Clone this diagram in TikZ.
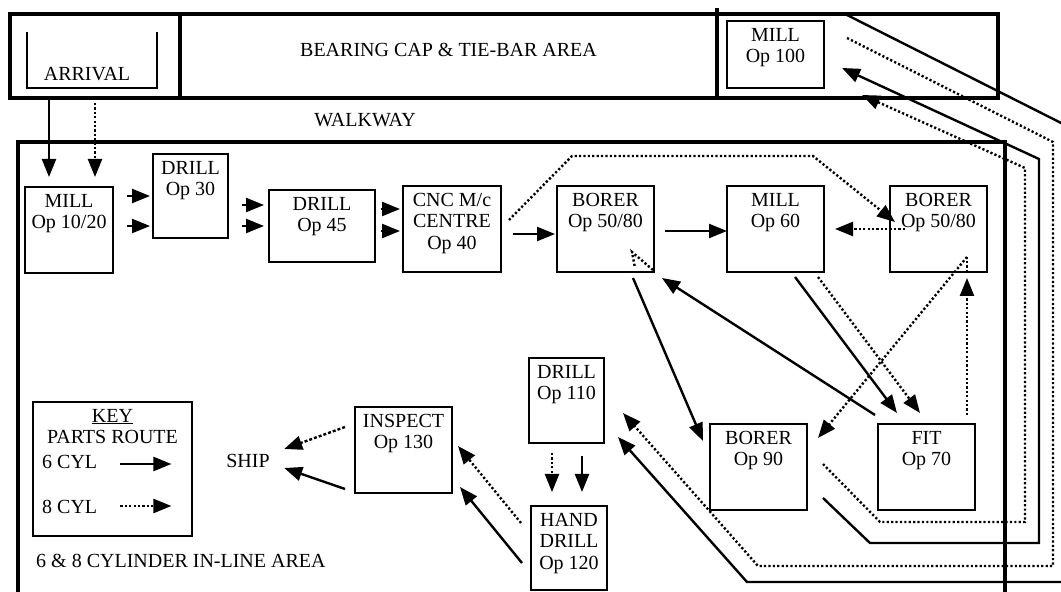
\documentclass[tikz,border=0pt]{standalone}
\usepackage{fontspec}
\setmainfont{Liberation Serif}
\usetikzlibrary{arrows.meta, calc}
\tikzset{
    box/.style={draw, line width=1.7pt, rectangle, anchor=north west, outer sep=0pt, inner sep=0pt},
    boxtext/.style={anchor=north, align=center, inner sep=0pt, yshift=-7pt},
    room/.style={draw, line width=4.5pt, rectangle, anchor=north west, outer sep=0pt, inner sep=0pt},
    eightline/.style={line width=2.4pt, dash pattern=on 2.2pt off 2.2pt},
    six/.style={line width=2.4pt, -{Triangle[length=18pt, width=14pt]}},
    eight/.style={eightline, -{Triangle[length=18pt, width=14pt]}}
}

\begin{document}
\begin{tikzpicture}[x=1pt, y=1pt, font=\fontsize{20}{21.5}\selectfont]
\useasboundingbox (0,0) rectangle (1061,592);
\clip (0,0) rectangle (1061,592);

% top area
\node[room, minimum width=170pt, minimum height=84pt] (arrival) at (10,578) {};
\node[room, minimum width=537pt, minimum height=84pt,
      label={[boxtext, yshift=-22pt]north:BEARING CAP \& TIE-BAR AREA}] (bearing) at (180,578) {};
\node[room, minimum width=281pt, minimum height=84pt] (millroom) at (717,578) {};
\draw[line width=4.5pt] (millroom.north west) -- ++(0,6);
\draw[line width=1.7pt] (27,560) -- (27,504) -- (157,504) -- (157,560);
\node (arrivaltext) at (87,518) {ARRIVAL};
\node[box, minimum width=97pt, minimum height=67pt, label={[boxtext]north:MILL\\Op 100}] (mill100) at (727,571) {};
\node (walkway) at (365,472) {WALKWAY};

% in-line area
\draw[line width=4.5pt] (18,-10) -- (18,450) -- (1005,450) -- (1005,-10);
\node[anchor=west, inner sep=0pt] (inlinearea) at (36,31) {6 \& 8 CYLINDER IN-LINE AREA};

\node[box, minimum width=88pt, minimum height=86pt, label={[boxtext]north:MILL\\Op 10/20}] (mill1020) at (25,405) {};
\node[box, minimum width=75pt, minimum height=84pt, label={[boxtext]north:DRILL\\Op 30}] (drill30) at (153,438) {};
\node[box, minimum width=106pt, minimum height=72pt, label={[boxtext]north:DRILL\\Op 45}] (drill45) at (269,402) {};
\node[box, minimum width=98pt, minimum height=86pt, label={[boxtext]north:CNC M/c\\CENTRE\\Op 40}] (cnc40) at (403,406) {};
\node[box, minimum width=97pt, minimum height=86pt, label={[boxtext]north:BORER\\Op 50/80}] (borer50a) at (557,406) {};
\node[box, minimum width=97pt, minimum height=86pt, label={[boxtext]north:MILL\\Op 60}] (mill60) at (727,406) {};
\node[box, minimum width=97pt, minimum height=86pt, label={[boxtext]north:BORER\\Op 50/80}] (borer50b) at (890,406) {};
\node[box, minimum width=75pt, minimum height=85pt, label={[boxtext]north:DRILL\\Op 110}] (drill110) at (529,234) {};
\node[box, minimum width=97pt, minimum height=86pt, label={[boxtext]north:BORER\\Op 90}] (borer90) at (710,168) {};
\node[box, minimum width=97pt, minimum height=86pt, label={[boxtext]north:FIT\\Op 70}] (fit70) at (878,168) {};
\node[box, minimum width=76pt, minimum height=84pt, label={[boxtext]north:HAND\\DRILL\\Op 120}] (hdrill120) at (531,86) {};
\node[box, minimum width=97pt, minimum height=86pt, label={[boxtext]north:INSPECT\\Op 130}] (inspect130) at (355,185) {};
\node (ship) at (248,131) {SHIP};

% key
\node[box, minimum width=159pt, minimum height=134pt, label={[boxtext]north:\underline{KEY}\\PARTS ROUTE}] (key) at (33,190) {};
\node[anchor=west, inner sep=0pt] (cyl6) at (42,130) {6 CYL};
\node[anchor=west, inner sep=0pt] (cyl8) at (42,85) {8 CYL};
\draw[six] ($(cyl6.east)+(23,-2)$) -- ++(51,0);
\draw[eight] ($(cyl8.east)+(23,1)$) -- ++(51,0);

% top row
\draw[six] ($(arrival.south west)+(39,0)$) -- ($(mill1020.north west)+(24,10)$);
\draw[eight] ($(arrival.south west)+(85,-5)$) -- ($(mill1020.north west)+(70,10)$);
\draw[six] ($(mill1020.east)+(14,34)$) -- ($(drill30.west)+(-3,0)$);
\draw[six] ($(mill1020.east)+(14,4)$) -- ($(drill30.west)+(-3,-30)$);
\draw[six] ($(drill30.east)+(14,-9)$) -- ($(drill45.west)+(-5,21)$);
\draw[six] ($(drill30.east)+(14,-30)$) -- ($(drill45.west)+(-5,0)$);
\draw[six] ($(drill45.east)+(6,17)$) -- ($(cnc40.west)+(-3,20)$);
\draw[six] ($(drill45.east)+(6,-5)$) -- ($(cnc40.west)+(-3,-2)$);
\draw[six] ($(cnc40.east)+(12,-5)$) -- ($(borer50a.west)+(-2,-5)$);
\draw[eight] ($(cnc40.east)+(8,9)$) -- ++(63,64) -- ++(241,0) -- ($(borer50b.west)+(5,7)$);
\draw[six] ($(borer50a.east)+(11,-2)$) -- ($(mill60.west)+(0,-2)$);
\draw[eight] ($(borer50b.west)+(15,0)$) -- ($(mill60.east)+(11,0)$);
\draw[eightline] ($(borer50a.south east)+(-1,2)$) -- ++(-21,18) -- ++(3,-16);

% middle
\draw[six] ($(borer50a.south)+(27.5,-6)$) -- ($(borer90.west)+(-7,26)$);
\draw[six] ($(fit70.north west)+(-3,9)$) -- ($(borer50a.south east)+(8,-6)$);
\draw[six] ($(mill60.south)+(19.5,-5)$) -- ($(fit70.north)+(-29.5,11)$);
\draw[eight] ($(mill60.south)+(42.5,-5)$) -- ($(fit70.north)+(-6.5,11)$);
\draw[eightline] ($(borer50b.south)+(28.5,0)$) -- ++(0,15);
\draw[eight] ($(borer50b.south)+(28.5,15)$) -- ($(borer90.north east)+(11,-14)$);
\draw[eight] ($(fit70.north)+(40.5,9)$) -- ($(borer50b.south)+(28.5,-6)$);

% loops round to mill op 100 and back
\draw[eight] ($(borer90.east)+(16,3)$) -- ++(57,-58) -- ++(145,0) -- ++(0,354) -- ($(mill100.south east)+(38,-7)$);
\draw[six] ($(borer90.east)+(16,-31)$) -- ++(47,-45) -- ++(169,0) -- ++(0,384) -- ($(mill100.east)+(18,-13.5)$);
\draw[eight] ($(mill100.east)+(23,16.5)$) -- ++(206,-104) -- ++(0,-424) -- ++(-295,0) -- ($(drill110.east)+(19,-12.5)$);
\draw[six] ($(mill100.north east)+(23,6)$) -- ++(228,-115) -- ++(0,-452) -- ++(-328,0) -- ($(drill110.east)+(14,-36.5)$);

% bottom
\draw[eight] ($(drill110.south)+(-14.5,-10)$) -- ($(hdrill120.north)+(-17,14)$);
\draw[six] ($(drill110.south)+(15.5,-13)$) -- ($(hdrill120.north)+(13,14)$);
\draw[eight] ($(hdrill120.west)+(-10,25)$) -- ($(inspect130.east)+(6,4)$);
\draw[six] ($(hdrill120.west)+(-9,-15)$) -- ($(inspect130.east)+(8,-37)$);
\draw[eight, dash pattern=on 3pt off 2pt] ($(inspect130.west)+(-10,23)$) -- ($(ship.east)+(11,12)$);
\draw[six] ($(inspect130.west)+(-10,-39)$) -- ($(ship.east)+(11,-7)$);
\end{tikzpicture}
\end{document}
